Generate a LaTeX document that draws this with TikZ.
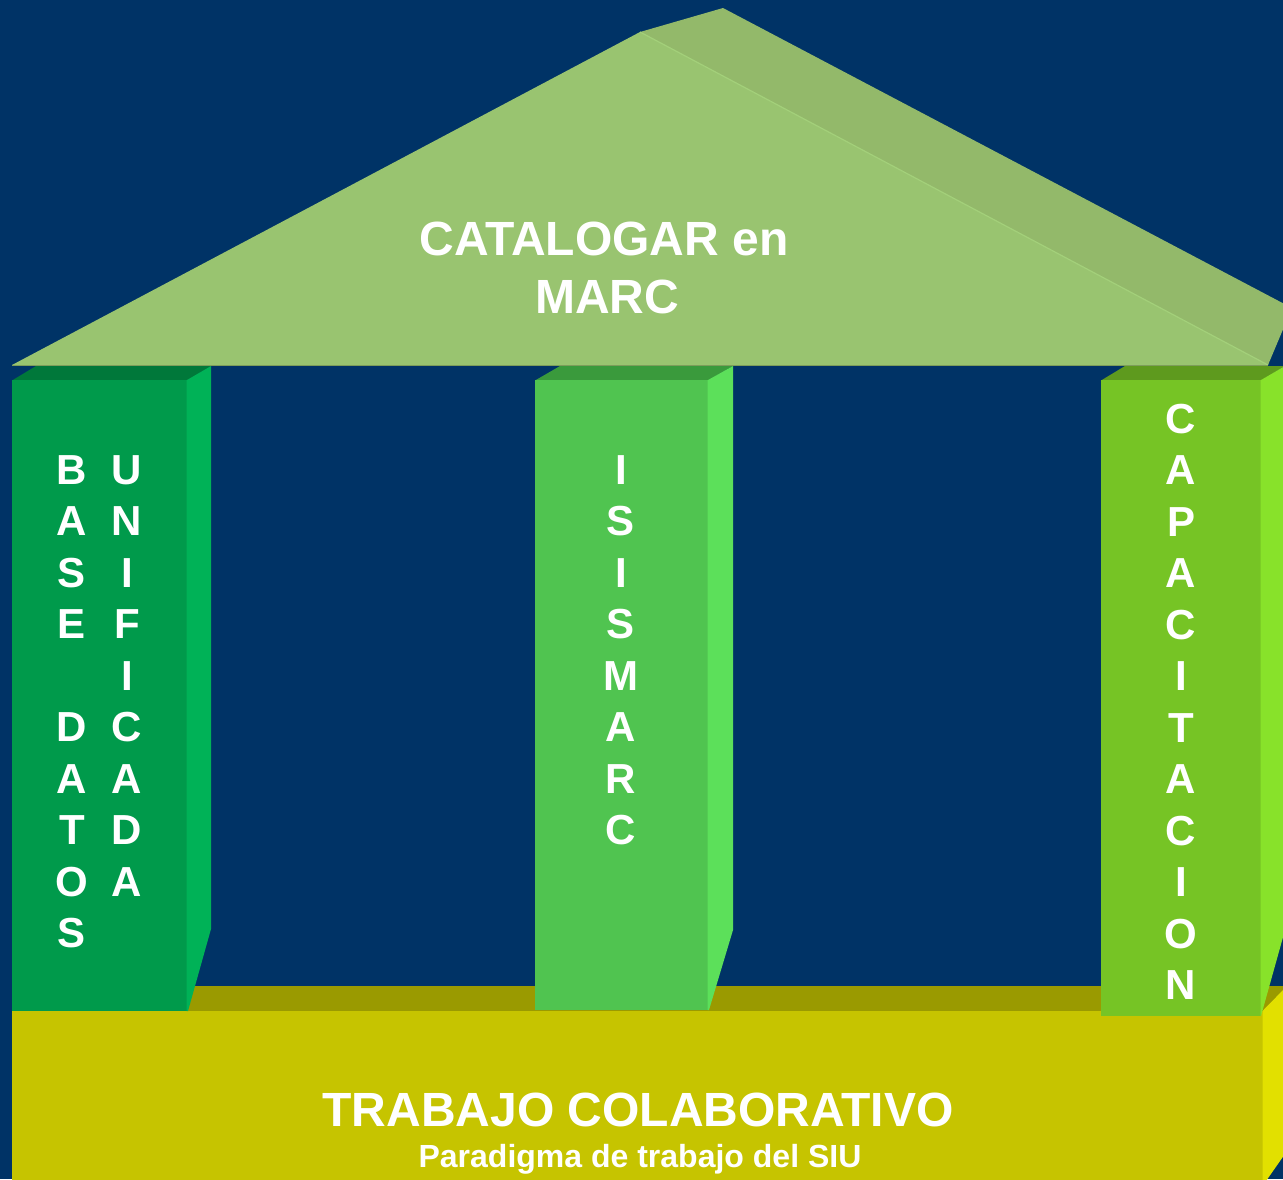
\documentclass[tikz,border=0pt]{standalone}
\usepackage{fontspec}
\setmainfont{Liberation Sans}
\definecolor{navy}{RGB}{0,51,102}
\definecolor{roofF}{RGB}{153,196,112}
\definecolor{roofT}{RGB}{147,185,106}
\definecolor{roofL}{RGB}{163,208,122}
\definecolor{cAf}{RGB}{0,154,75}
\definecolor{cAt}{RGB}{0,120,58}
\definecolor{cAs}{RGB}{0,178,87}
\definecolor{cBf}{RGB}{80,196,80}
\definecolor{cBt}{RGB}{58,154,60}
\definecolor{cBs}{RGB}{92,224,90}
\definecolor{cCf}{RGB}{118,196,37}
\definecolor{cCt}{RGB}{94,154,30}
\definecolor{cCs}{RGB}{136,226,42}
\definecolor{bF}{RGB}{198,196,0}
\definecolor{bT}{RGB}{154,154,0}
\definecolor{bS}{RGB}{226,224,0}
\begin{document}
\begin{tikzpicture}[x=1pt,y=-1pt,
  letter/.style={text=white,font=\fontsize{42}{50}\selectfont\bfseries,anchor=base,inner sep=0pt},
  bigtext/.style={text=white,font=\fontsize{48}{58}\selectfont\bfseries,anchor=base,inner sep=0pt},
  smalltext/.style={text=white,font=\fontsize{32}{38}\selectfont\bfseries,anchor=base,inner sep=0pt}]
\useasboundingbox (0,0) rectangle (1283,1179);
\clip (0,0) rectangle (1283,1179);
\fill[navy] (0,0) rectangle (1283,1179);
% base
\fill[bT] (12,1012) -- (1264,1012) -- (1288,986) -- (36,986) -- cycle;
\fill[bF] (12,1011) rectangle (1263,1185);
\fill[bS] (1262.5,1011) -- (1287,986) -- (1287,1151) -- (1262.5,1186) -- cycle;
% column 1
\fill[cAt] (12,380.5) -- (187,380.5) -- (211,366) -- (36,366) -- cycle;
\fill[cAf] (12,380) rectangle (187,1011);
\fill[cAs] (186.5,380.3) -- (211,366) -- (211,929) -- (188,1011) -- (186.5,1011) -- cycle;
% column 2
\fill[cBt] (535,380.5) -- (708,380.5) -- (733,366) -- (560,366) -- cycle;
\fill[cBf] (535,380) rectangle (708,1010);
\fill[cBs] (707.5,380.3) -- (733,366) -- (733,930) -- (709,1010) -- (707.5,1010) -- cycle;
% column 3
\fill[cCt] (1101,380.5) -- (1261,380.5) -- (1285,366) -- (1125,366) -- cycle;
\fill[cCf] (1101,380) rectangle (1261,1016);
\fill[cCs] (1260.5,380.3) -- (1285,366) -- (1285,930) -- (1261,1016) -- (1260.5,1016) -- cycle;
% roof
\fill[roofT] (640,32) -- (723,8) -- (1292,308) -- (1268,365) -- cycle;
\fill[roofF] (12,365) -- (640,32) -- (1268,365) -- cycle;
\draw[roofL,line width=1.2pt] (640,32) -- (1268,365);
\draw[roofT!85!black,line width=1pt] (12,365.5) -- (1268,365.5);
% roof text
\node[bigtext] (roof1) at (604,255) {CATALOGAR en};
\node[bigtext] (roof2) at (607,313) {MARC};
% base text
\node[bigtext] (base1) at (638,1126) {TRABAJO COLABORATIVO};
\node[smalltext] (base2) at (640,1167) {Paradigma de trabajo del SIU};
% column texts
\foreach \l [count=\i] in {B,A,S,E,{},D,A,T,O,S}
  \node[letter] (bd\i) at (72,{484+51.5*(\i-1)}) {\l};
\foreach \l [count=\i] in {U,N,I,F,I,C,A,D,A}
  \node[letter] (un\i) at (127,{484+51.5*(\i-1)}) {\l};
\foreach \l [count=\i] in {I,S,I,S,M,A,R,C}
  \node[letter] (is\i) at (621,{484+51.5*(\i-1)}) {\l};
\foreach \l [count=\i] in {C,A,P,A,C,I,T,A,C,I,O,N}
  \node[letter] (ca\i) at (1181,{433+51.5*(\i-1)}) {\l};
\end{tikzpicture}
\end{document}
